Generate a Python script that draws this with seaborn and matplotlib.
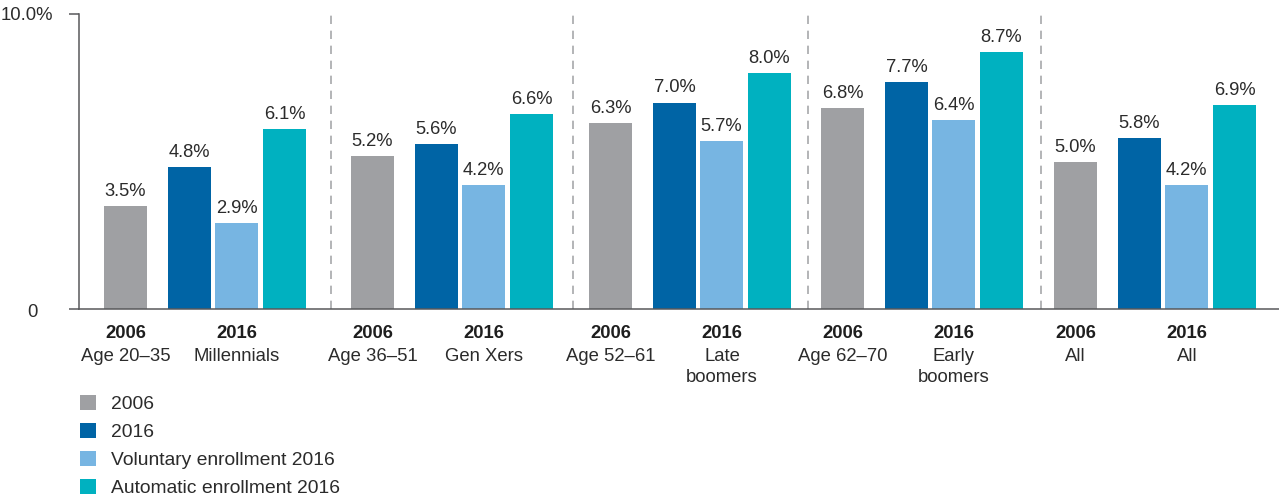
import numpy as np
import pandas as pd
import matplotlib
matplotlib.use("Agg")
import matplotlib.pyplot as plt
import seaborn as sns
from matplotlib.patches import Patch

# ---------------- data ----------------
groups_2006 = ["Age 20–35", "Age 36–51", "Age 52–61", "Age 62–70", "All"]
groups_2016 = ["Millennials", "Gen Xers", "Late\nboomers", "Early\nboomers", "All"]
year_labels = ["2006", "2016"]
series = ["2006", "2016", "Voluntary enrollment 2016", "Automatic enrollment 2016"]
vals_2006 = [3.5, 5.2, 6.3, 6.8, 5.0]
vals_2016 = [4.8, 5.6, 7.0, 7.7, 5.8]
vals_vol = [2.9, 4.2, 5.7, 6.4, 4.2]
vals_auto = [6.1, 6.6, 8.0, 8.7, 6.9]
ytick_values = [0, 10]
ytick_labels = ["0", "10.0%"]

# ---------------- style / layout ----------------
colors = ["#9fa0a3", "#0064a5", "#77b5e2", "#00b1c0"]
text_col = "#2b2b2b"
axis_col = "#58595b"
W, H = 1279, 497
group_starts = [25, 272, 510, 742, 975]   # layout (axis units)
bar_offsets = [0, 64, 111, 159]
bar_w = 43

sns.set_style("white")
plt.rcParams["font.family"] = ["Liberation Sans", "DejaVu Sans"]

all_vals = [vals_2006, vals_2016, vals_vol, vals_auto]
rows = []
for gi, start in enumerate(group_starts):
    for si, s in enumerate(series):
        rows.append({"x": start + bar_offsets[si] + bar_w / 2,
                     "value": all_vals[si][gi], "series": s})
df = pd.DataFrame(rows)
native_w = np.min(np.diff(np.unique(df["x"].values)))

fig = plt.figure(figsize=(W / 100, H / 100), dpi=100)
ax = fig.add_axes([79 / W, (H - 309) / H, 1200 / W, 295 / H])

sns.barplot(data=df, x="x", y="value", hue="series", hue_order=series,
            palette=colors, native_scale=True, dodge=False,
            width=bar_w / native_w, saturation=1, linewidth=0,
            errorbar=None, legend=False, ax=ax)

ax.set_xlim(0, 1200)
ax.set_ylim(0, 10)
ax.set_xticks([])
ax.set_xlabel("")
ax.set_ylabel("")
ax.set_yticks(ytick_values)
ax.set_yticklabels([])
ax.tick_params(axis="y", length=7.2, width=1.1, color=axis_col, left=True)
for side in ["top", "right"]:
    ax.spines[side].set_visible(False)
for side in ["left", "bottom"]:
    ax.spines[side].set_color(axis_col)
    ax.spines[side].set_linewidth(1.1)

# y tick labels (numbers aligned on the digits)
ax.annotate(ytick_labels[1], xy=(0, ytick_values[1]), xycoords=("axes fraction", "data"),
            xytext=(-26 * 0.72, 0), textcoords="offset points",
            ha="right", va="center_baseline", fontsize=13.3, color=text_col)
ax.annotate(ytick_labels[0], xy=(0, ytick_values[0]), xycoords=("axes fraction", "data"),
            xytext=(-41 * 0.72, -1), textcoords="offset points",
            ha="right", va="center_baseline", fontsize=13.3, color=text_col)

# value labels
for _, r in df.iterrows():
    ax.annotate(f"{r['value']:.1f}%", xy=(r["x"], r["value"]),
                xytext=(0, 7.2), textcoords="offset points",
                ha="center", va="baseline", fontsize=13.2, color=text_col)

# dashed separators
for gi in range(len(group_starts) - 1):
    end = group_starts[gi] + bar_offsets[-1] + bar_w
    sep = (end + group_starts[gi + 1]) / 2 + 2
    ax.axvline(sep, ymin=0, ymax=1, color="#a7a8aa", lw=1.2,
               dashes=(5, 4), zorder=0)

# category labels
line_base = [-29, -52, -73]
for gi, start in enumerate(group_starts):
    cx06 = start + bar_offsets[0] + bar_w / 2
    cx16 = start + (bar_offsets[1] + bar_offsets[3] + bar_w) / 2
    for cx, yl, sub in [(cx06, year_labels[0], groups_2006[gi]),
                        (cx16, year_labels[1], groups_2016[gi])]:
        ax.annotate(yl, xy=(cx, 0), xycoords=("data", "axes fraction"),
                    xytext=(0, line_base[0] * 0.72), textcoords="offset points",
                    ha="center", va="baseline", fontsize=13.3,
                    fontweight="bold", color="#1e1e1e")
        for li, part in enumerate(sub.split("\n")):
            ax.annotate(part, xy=(cx, 0), xycoords=("data", "axes fraction"),
                        xytext=(0, line_base[li + 1] * 0.72), textcoords="offset points",
                        ha="center", va="baseline", fontsize=13.3, color=text_col)

# legend
handles = [Patch(facecolor=c, edgecolor="none", label=s) for c, s in zip(colors, series)]
fs = 13.9
fpx = fs / 0.72
fig.legend(handles=handles, loc="upper left",
           bbox_to_anchor=(80 / W, 1 - 395 / H), frameon=False, fontsize=fs,
           handlelength=16 / fpx, handleheight=16 / fpx, handletextpad=15 / fpx,
           labelspacing=0.5, borderpad=0, borderaxespad=0, labelcolor=text_col)

fig.savefig("out.png", dpi=100)
